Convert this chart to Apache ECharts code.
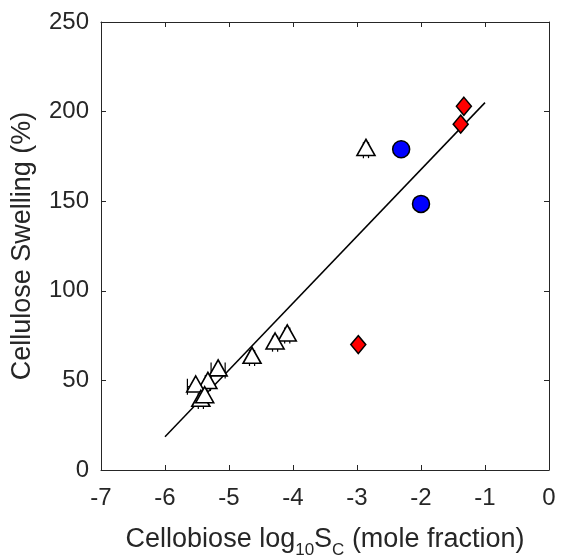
<!DOCTYPE html>
<html>
<head>
<meta charset="utf-8">
<script src="https://cdn.jsdelivr.net/npm/echarts@6/dist/echarts.min.js"></script>
<style>
  html, body { margin: 0; padding: 0; background: #fff; }
  #chart { width: 561px; height: 557px; }
</style>
</head>
<body>
<div id="chart"></div>
<script>
// Cellulose swelling vs. cellobiose solubility (log10 mole fraction)
const triangleX = [-2.86, -4.09, -4.28, -4.64, -5.17, -5.33, -5.52, -5.44, -5.38];
const triangleY = [178.5, 75, 70.5, 62.5, 55.5, 48.5, 46.5, 38.5, 40.5];
const triangleErr = [0.04, 0.04, 0.04, 0.04, 0.11, 0.04, 0.13, 0.04, 0.04];
const circleX = [-2.31, -2.0];
const circleY = [179, 148.5];
const diamondX = [-1.33, -1.38, -2.98];
const diamondY = [203, 193, 70];
const fitX = [-6, -1];
const fitY = [18.6, 205];
const xTicks = [-7, -6, -5, -4, -3, -2, -1, 0];
const yTicks = [0, 50, 100, 150, 200, 250];

const textColor = '#262626';
const font = 'Liberation Sans, Arial, Helvetica, sans-serif';

const pairs = (xs, ys) => xs.map((x, i) => [x, ys[i]]);

const chart = echarts.init(document.getElementById('chart'), null, { renderer: 'canvas' });

const axisCommon = {
  type: 'value',
  axisLine: { show: true, onZero: false, lineStyle: { color: textColor, width: 1 } },
  axisTick: { show: true, inside: true, length: 5, lineStyle: { color: textColor, width: 1 } },
  splitLine: { show: false }
};

// triangle marker: placed so its centroid sits on the data point
const triW = 18, triH = 16;

chart.setOption({
  animation: false,
  backgroundColor: '#ffffff',
  grid: { left: 101, right: 12, top: 22, bottom: 87, containLabel: false, outerBoundsMode: 'none' },
  xAxis: [
    Object.assign({}, axisCommon, {
      position: 'bottom',
      min: xTicks[0], max: xTicks[xTicks.length - 1], interval: 1,
      axisLabel: { color: textColor, fontSize: 24, fontFamily: font, margin: 16 },
      name: 'Cellobiose log{sub|10}S{sub|C} (mole fraction)',
      nameLocation: 'middle',
      nameGap: 50,
      nameTextStyle: {
        color: textColor, fontSize: 27, fontFamily: font,
        rich: {
          sub: { fontSize: 17, fontFamily: font, color: textColor, padding: [22, 0, 0, 0] }
        }
      }
    }),
    Object.assign({}, axisCommon, {
      position: 'top',
      min: xTicks[0], max: xTicks[xTicks.length - 1], interval: 1,
      axisLabel: { show: false }
    })
  ],
  yAxis: [
    Object.assign({}, axisCommon, {
      position: 'left',
      min: yTicks[0], max: yTicks[yTicks.length - 1], interval: 50,
      axisLabel: { color: textColor, fontSize: 24, fontFamily: font, margin: 12 },
      name: 'Cellulose Swelling (%)',
      nameLocation: 'middle',
      nameGap: 65,
      nameTextStyle: { color: textColor, fontSize: 27, fontFamily: font }
    }),
    Object.assign({}, axisCommon, {
      position: 'right',
      min: yTicks[0], max: yTicks[yTicks.length - 1], interval: 50,
      axisLabel: { show: false }
    })
  ],
  series: [
    {
      name: 'fit',
      type: 'line',
      data: pairs(fitX, fitY),
      symbol: 'none',
      lineStyle: { color: '#000', width: 1.5 },
      z: 2
    },
    {
      name: 'error',
      type: 'custom',
      data: triangleX.map((x, i) => [x, triangleY[i], triangleErr[i]]),
      renderItem: function (params, api) {
        const x = api.value(0), y = api.value(1), e = api.value(2);
        const p1 = api.coord([x - e, y]);
        const p2 = api.coord([x + e, y]);
        const h = 8;
        const style = { stroke: '#000', lineWidth: 1.2 };
        return {
          type: 'group',
          children: [
            { type: 'line', shape: { x1: p1[0], y1: p1[1], x2: p2[0], y2: p2[1] }, style: style },
            { type: 'line', shape: { x1: p1[0], y1: p1[1] - h, x2: p1[0], y2: p1[1] + h }, style: style },
            { type: 'line', shape: { x1: p2[0], y1: p2[1] - h, x2: p2[0], y2: p2[1] + h }, style: style }
          ]
        };
      },
      z: 3
    },
    {
      name: 'triangles',
      type: 'scatter',
      data: pairs(triangleX, triangleY),
      symbol: 'triangle',
      symbolSize: [triW, triH],
      symbolOffset: [0, -triH / 6],
      itemStyle: { color: '#ffffff', borderColor: '#000', borderWidth: 1.6, opacity: 1 },
      z: 4
    },
    {
      name: 'circles',
      type: 'scatter',
      data: pairs(circleX, circleY),
      symbol: 'circle',
      symbolSize: 17,
      itemStyle: { color: '#0000ff', borderColor: '#000', borderWidth: 1.5, opacity: 1 },
      z: 4
    },
    {
      name: 'diamonds',
      type: 'scatter',
      data: pairs(diamondX, diamondY),
      symbol: 'diamond',
      symbolSize: [15, 18],
      itemStyle: { color: '#ff0000', borderColor: '#000', borderWidth: 1.5, opacity: 1 },
      z: 4
    }
  ]
});
</script>
</body>
</html>
